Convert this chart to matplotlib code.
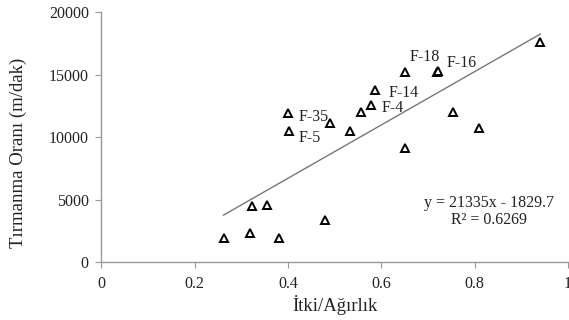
import matplotlib
matplotlib.use('Agg')
import matplotlib.pyplot as plt
import numpy as np

plt.rcParams['font.family'] = ['Liberation Serif', 'DejaVu Serif']

# data
tw_ratio = [0.262, 0.323, 0.355, 0.318, 0.381, 0.480, 0.941, 0.650, 0.719, 0.722,
            0.587, 0.579, 0.556, 0.491, 0.533, 0.753, 0.810, 0.650, 0.401, 0.403]
climb = [1950, 4500, 4600, 2350, 1900, 3350, 17650, 15250, 15250, 15300,
         13750, 12600, 12000, 11100, 10450, 12000, 10750, 9150, 11950, 10500]

labels = ['F-35', 'F-5', 'F-18', 'F-16', 'F-14', 'F-4']
label_xy = [(0.423, 11650), (0.423, 9900), (0.660, 16450), (0.740, 15900), (0.615, 13550), (0.600, 12330)]

slope, intercept = 21335, -1829.7
r2 = 0.6269

fig = plt.figure(figsize=(5.69, 3.2), dpi=100)
ax = fig.add_axes([0.178, 0.181, 0.82, 0.781])

ax.plot(tw_ratio, climb, linestyle='none', marker='^', ms=5.5, mfc='white',
        mec='black', mew=1.4, zorder=3)

xs = np.array([min(tw_ratio), max(tw_ratio)])
ax.plot(xs, slope * xs + intercept, color='#777777', lw=1.0, zorder=2)

for lab, (lx, ly) in zip(labels, label_xy):
    ax.text(lx, ly, lab, fontsize=11.5, ha='left', va='center', color='#222222')

ax.text(0.83, 4750, f'y = {slope}x - {-intercept}', fontsize=11.5, ha='center', va='center', color='#222222')
ax.text(0.83, 3350, f'R² = {r2}', fontsize=11.5, ha='center', va='center', color='#222222')

ax.set_xlim(0, 1)
ax.set_ylim(0, 20000)
ax.set_xticks([0, 0.2, 0.4, 0.6, 0.8, 1])
ax.set_xticklabels(['0', '0.2', '0.4', '0.6', '0.8', '1'])
ax.set_yticks([0, 5000, 10000, 15000, 20000])

for s in ['top', 'right']:
    ax.spines[s].set_visible(False)
for s in ['left', 'bottom']:
    ax.spines[s].set_color('#999999')
    ax.spines[s].set_linewidth(1.0)
ax.tick_params(colors='#999999', labelcolor='#222222', labelsize=11.5, length=4, direction='out')
ax.tick_params(axis='x', pad=6)
ax.tick_params(axis='y', pad=5)

ax.set_xlabel('İtki/Ağırlık', fontsize=13.5, color='#222222')
ax.set_ylabel('Tırmanma Oranı (m/dak)', fontsize=13.5, color='#222222')
ax.xaxis.set_label_coords(0.5, -0.13)
ax.yaxis.set_label_coords(-0.16, 0.436)

fig.savefig('out.png', dpi=100)
